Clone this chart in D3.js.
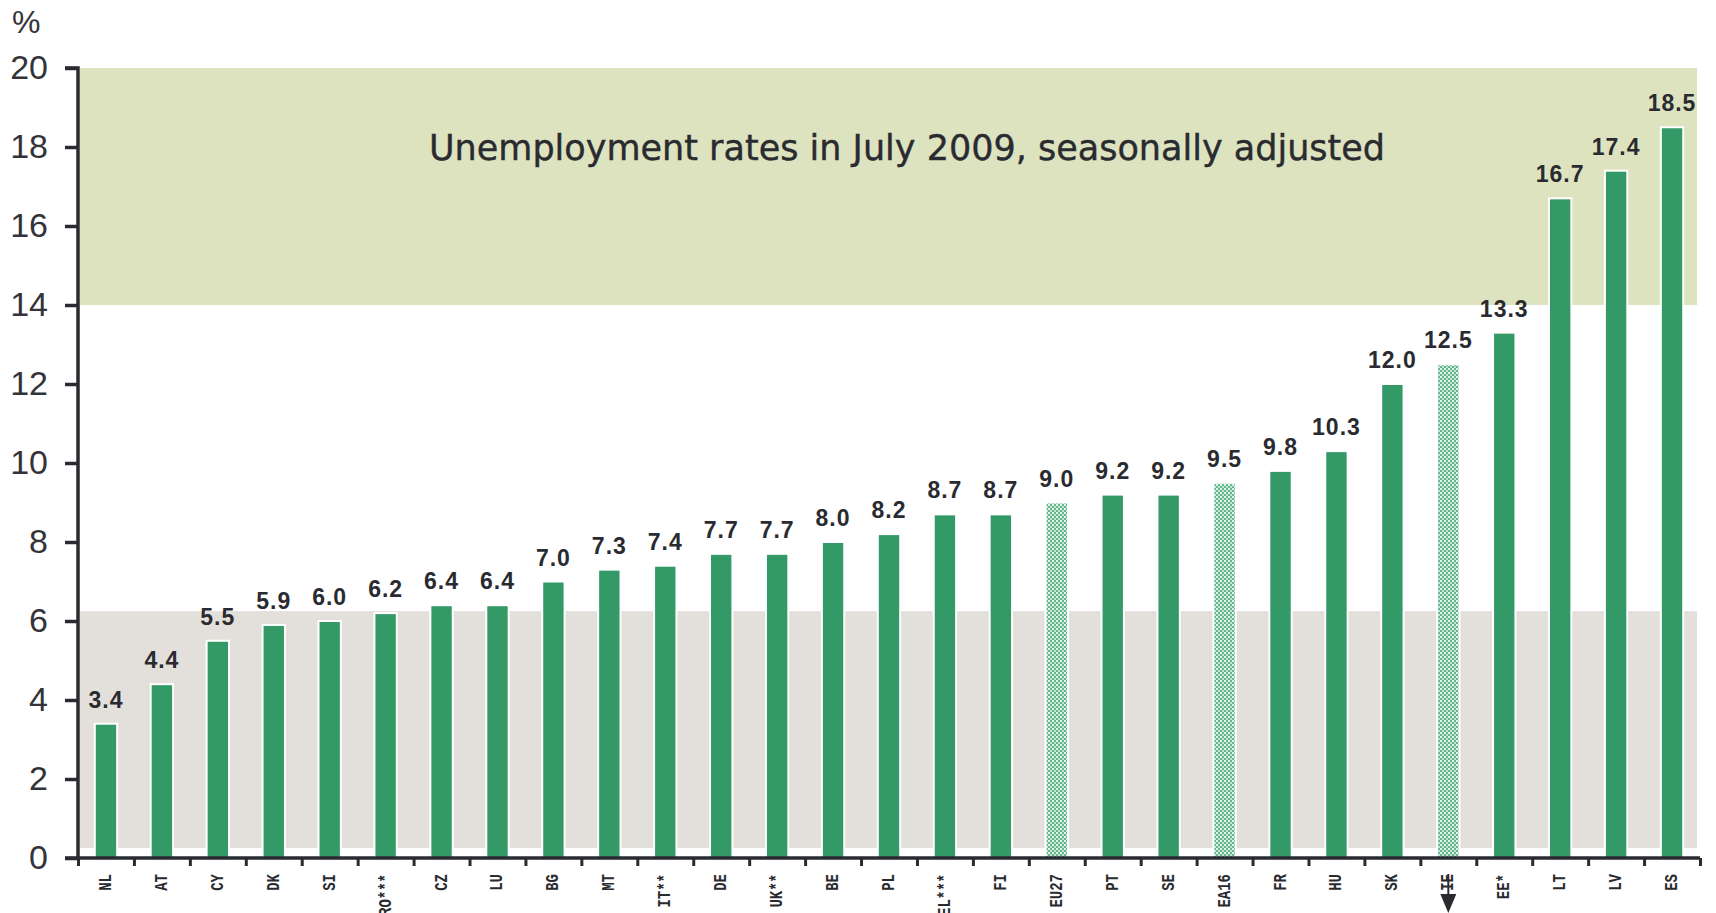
<!DOCTYPE html>
<html>
<head>
<meta charset="utf-8">
<script src="https://cdn.jsdelivr.net/npm/d3@7"></script>
<style>
  html, body { margin: 0; padding: 0; background: #ffffff; }
  svg { display: block; }
</style>
</head>
<body>
<svg id="chart" width="1716" height="913"></svg>
<script>
// Unemployment rates, July 2009, seasonally adjusted (%)
const countries = ["NL","AT","CY","DK","SI","RO***","CZ","LU","BG","MT","IT**","DE","UK**","BE","PL","EL***","FI","EU27","PT","SE","EA16","FR","HU","SK","IE","EE*","LT","LV","ES"];
const rates = [3.4,4.4,5.5,5.9,6.0,6.2,6.4,6.4,7.0,7.3,7.4,7.7,7.7,8.0,8.2,8.7,8.7,9.0,9.2,9.2,9.5,9.8,10.3,12.0,12.5,13.3,16.7,17.4,18.5];
// Aggregates and estimated figures drawn with a dotted fill
const dottedBars = ["EU27","EA16","IE"];
const yTicks = [0,2,4,6,8,10,12,14,16,18,20];
// Background shading ranges on the value axis
const highBand = [14, 20];
const lowBand = [0.25, 6.25];
const chartTitle = "Unemployment rates in July 2009, seasonally adjusted";
const unitLabel = "%";

const svg = d3.select("#chart");
const plotLeft = 78, plotRight = 1700, plotTop = 68, plotBottom = 858;
const ink = "#2a2b30";
const barGreen = "#339966";

const y = d3.scaleLinear().domain([0, 20]).range([plotBottom, plotTop]);
const x = d3.scaleBand().domain(countries).range([plotLeft, plotRight]).paddingInner(0.6).paddingOuter(0.3);
const edge = d3.scaleLinear().domain([0, countries.length]).range([plotLeft, plotRight]);

// dotted fill pattern
const defs = svg.append("defs");
const pat = defs.append("pattern").attr("id", "dots").attr("patternUnits", "userSpaceOnUse")
  .attr("width", 4).attr("height", 4);
pat.append("rect").attr("width", 4).attr("height", 4).attr("fill", "#62b68b");
pat.append("rect").attr("x", 0).attr("y", 0).attr("width", 2).attr("height", 2).attr("fill", "#e4f3ea");
pat.append("rect").attr("x", 2).attr("y", 2).attr("width", 2).attr("height", 2).attr("fill", "#c4e5d2");

// background bands
svg.append("rect").attr("x", plotLeft + 2).attr("width", plotRight - 3 - (plotLeft + 2))
  .attr("y", y(highBand[1])).attr("height", y(highBand[0]) - y(highBand[1]))
  .attr("fill", "#dde3bf");
svg.append("rect").attr("x", plotLeft + 2).attr("width", plotRight - 3 - (plotLeft + 2))
  .attr("y", y(lowBand[1])).attr("height", y(lowBand[0]) - y(lowBand[1]))
  .attr("fill", "#e3e0dc");

// title
svg.append("text").attr("x", 907).attr("y", 160).attr("text-anchor", "middle")
  .attr("font-family", "'DejaVu Sans', sans-serif").attr("font-size", 35)
  .attr("stroke", ink).attr("stroke-width", 0.4)
  .attr("fill", ink).text(chartTitle);

// bars
svg.append("g").selectAll("rect").data(countries).join("rect")
  .attr("x", d => x(d))
  .attr("width", x.bandwidth())
  .attr("y", (d, i) => y(rates[i]))
  .attr("height", (d, i) => y(0) - y(rates[i]))
  .attr("fill", d => dottedBars.includes(d) ? "url(#dots)" : barGreen)
  .attr("stroke", "#ffffff").attr("stroke-width", 2);

// value labels
svg.append("g").selectAll("text").data(countries).join("text")
  .attr("x", d => x(d) + x.bandwidth() / 2)
  .attr("y", (d, i) => y(rates[i]) - 16)
  .attr("text-anchor", "middle")
  .attr("font-family", "'Liberation Sans', Arial, sans-serif")
  .attr("font-weight", "bold").attr("font-size", 23).attr("letter-spacing", 1)
  .attr("fill", ink)
  .text((d, i) => d3.format(".1f")(rates[i]));

// y axis
const yAxis = svg.append("g").attr("transform", `translate(${plotLeft},0)`)
  .call(d3.axisLeft(y).tickValues(yTicks).tickSize(13).tickPadding(17).tickFormat(d3.format("d")));
yAxis.select(".domain").attr("stroke", ink).attr("stroke-width", 3.5).attr("d", `M-13,${plotTop}H0V${plotBottom}`);
yAxis.selectAll(".tick line").attr("stroke", ink).attr("stroke-width", 3.5);
yAxis.selectAll(".tick text").attr("font-family", "'Liberation Sans', Arial, sans-serif")
  .attr("font-size", 34).attr("fill", "#333338");

// x axis with ticks at band edges
const xAxis = svg.append("g").attr("transform", `translate(0,${plotBottom})`)
  .call(d3.axisBottom(edge).tickValues(d3.range(countries.length + 1)).tickSize(8).tickFormat(""));
xAxis.select(".domain").attr("stroke", ink).attr("stroke-width", 3.5).attr("d", `M${plotLeft - 13},0H${plotRight}`);
xAxis.selectAll(".tick line").attr("stroke", ink).attr("stroke-width", 3);

// category labels, rotated
svg.append("g").selectAll("text").data(countries).join("text")
  .attr("transform", d => `translate(${x(d) + x.bandwidth() / 2 + 5},874) rotate(-90) scale(1,1.3)`)
  .attr("text-anchor", "end")
  .attr("font-family", "'Liberation Mono', 'Courier New', monospace")
  .attr("font-weight", "bold").attr("font-size", 14)
  .attr("fill", ink)
  .text(d => d);

// arrow under IE
const ieX = x("IE") + x.bandwidth() / 2;
svg.append("line").attr("x1", ieX).attr("x2", ieX).attr("y1", 874).attr("y2", 896)
  .attr("stroke", ink).attr("stroke-width", 2);
svg.append("path").attr("d", `M${ieX - 8},894L${ieX + 8},894L${ieX},913Z`).attr("fill", ink);

// unit label
svg.append("text").attr("x", 12).attr("y", 33)
  .attr("font-family", "'Liberation Sans', Arial, sans-serif").attr("font-size", 32)
  .attr("fill", "#333338").text(unitLabel);
</script>
</body>
</html>
